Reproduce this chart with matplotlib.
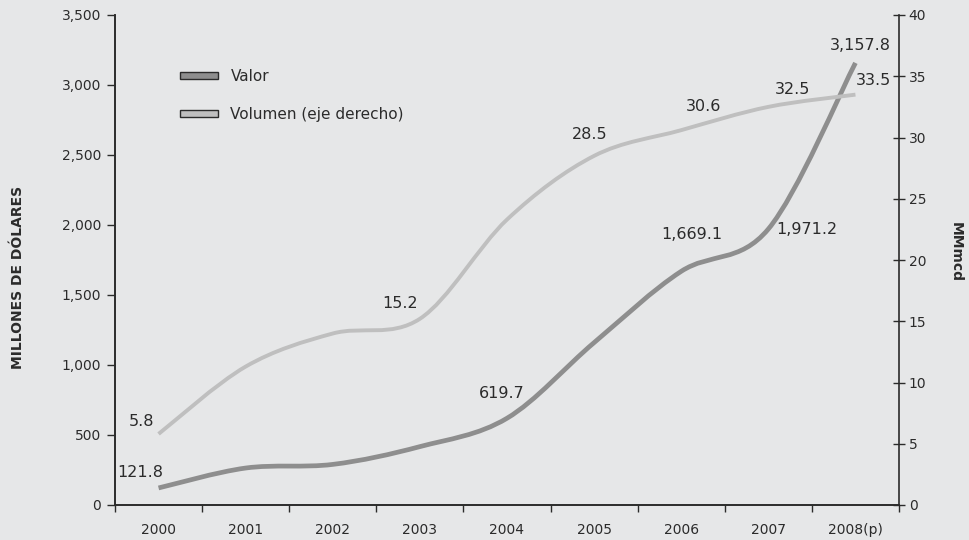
import numpy as np
import matplotlib.pyplot as plt
from matplotlib.path import Path
from matplotlib.patches import PathPatch, Patch

# data
years = ['2000', '2001', '2002', '2003', '2004', '2005', '2006', '2007', '2008(p)']
valor = [121.8, 264, 290, 417, 619.7, 1160, 1669.1, 1971.2, 3157.8]      # millones de dolares
volumen = [5.8, 11.3, 14.0, 15.2, 23.3, 28.5, 30.6, 32.5, 33.5]          # MMmcd

# which points get a label and where (offset in pixels)
valor_lbl = {0: (-18, 15), 4: (-5, 25), 6: (11, 37), 7: (38, 0), 8: (5, 17)}
volumen_lbl = {0: (-17, 12), 3: (-20, 15), 5: (-4, 21), 6: (22, 24), 7: (24, 17), 8: (18, 14)}

bg = '#e6e7e8'
c_valor = '#8e8e8e'
c_vol = '#bfbfbf'
dark = '#2b2b2b'


def smooth_path(x, y):
    # excel style smoothed line (catmull-rom as cubic bezier)
    x = np.asarray(x, float)
    y = np.asarray(y, float)
    pts = np.column_stack([x, y])
    n = len(pts)
    verts = [pts[0]]
    codes = [Path.MOVETO]
    for i in range(n - 1):
        p0 = pts[max(i - 1, 0)]
        p1 = pts[i]
        p2 = pts[i + 1]
        p3 = pts[min(i + 2, n - 1)]
        c1 = p1 + (p2 - p0) / 6.0
        c2 = p2 - (p3 - p1) / 6.0
        verts += [c1, c2, p2]
        codes += [Path.CURVE4] * 3
    return Path(verts, codes)


fig = plt.figure(figsize=(9.69, 5.4), dpi=100, facecolor=bg)
ax = fig.add_axes([115/969, 1 - 505/540, 784/969, 490/540])
ax.set_facecolor(bg)
ax2 = ax.twinx()

xs = np.arange(len(years))

ax.add_patch(PathPatch(smooth_path(xs, valor), fill=False, edgecolor=c_valor,
                       lw=3.4, capstyle='butt', zorder=3))
ax2.add_patch(PathPatch(smooth_path(xs, volumen), fill=False, edgecolor=c_vol,
                        lw=2.8, capstyle='butt', zorder=3))

ax.set_xlim(-0.5, len(years) - 0.5)
ax.set_ylim(0, 3500)
ax2.set_ylim(0, 40)

for i, (dx, dy) in valor_lbl.items():
    ax.annotate(f'{valor[i]:,.1f}', (xs[i], valor[i]), xytext=(dx, dy),
                textcoords='offset pixels', ha='center', va='center',
                fontsize=11.5, color=dark)
for i, (dx, dy) in volumen_lbl.items():
    ax2.annotate(f'{volumen[i]:,.1f}', (xs[i], volumen[i]), xytext=(dx, dy),
                 textcoords='offset pixels', ha='center', va='center',
                 fontsize=11.5, color=dark)

# axes styling
ax.set_yticks(np.arange(0, 3501, 500))
ax.set_yticklabels([f'{v:,}' for v in range(0, 3501, 500)])
ax2.set_yticks(np.arange(0, 41, 5))
ax.set_xticks(np.arange(-0.5, len(years), 1))
ax.set_xticklabels([])
ax.set_xticks(xs, minor=True)
ax.set_xticklabels(years, minor=True)
ax.tick_params(axis='x', which='major', length=5, width=1, color=dark, direction='out')
ax.tick_params(axis='x', which='minor', length=0, pad=13, labelsize=10, labelcolor=dark)
ax.tick_params(axis='y', length=6, width=1, color=dark, labelsize=10, labelcolor=dark, pad=4)
ax2.tick_params(axis='y', length=8, width=1, color=dark, direction='inout',
                labelsize=10, labelcolor=dark, pad=3)

for a in (ax, ax2):
    a.spines['top'].set_visible(False)
    for s in ('left', 'right', 'bottom'):
        a.spines[s].set_color(dark)
        a.spines[s].set_linewidth(1.2)
ax.spines['right'].set_visible(False)

fig.text(18/969, 1 - 277/540, 'MILLONES DE DÓLARES', rotation=90, ha='center', va='center',
         fontsize=10, fontweight='bold', color=dark)
fig.text(956/969, 1 - 252/540, 'MMmcd', rotation=-90, ha='center', va='center',
         fontsize=10, fontweight='bold', color=dark)

handles = [Patch(facecolor=c_valor, edgecolor=dark, lw=1, label='Valor'),
           Patch(facecolor=c_vol, edgecolor=dark, lw=1, label='Volumen (eje derecho)')]
fig.legend(handles=handles, loc='upper left', bbox_to_anchor=(180/969, 1 - 69/540),
           frameon=False, fontsize=11, handlelength=2.5, handleheight=0.4,
           handletextpad=0.8, labelspacing=1.5, borderpad=0, borderaxespad=0,
           labelcolor=dark)

fig.savefig('out.png', dpi=100, facecolor=bg)
